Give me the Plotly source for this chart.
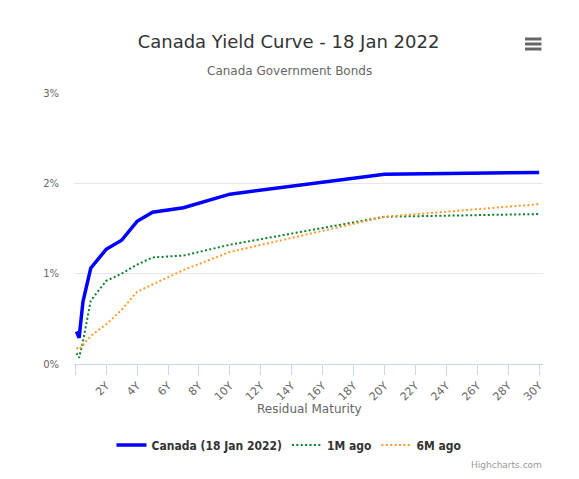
import plotly.graph_objects as go

# Residual maturity in years
maturity = [0.083, 0.25, 0.5, 1, 2, 3, 4, 5, 7, 10, 20, 30]
canada = [0.36, 0.29, 0.69, 1.06, 1.27, 1.37, 1.58, 1.68, 1.73, 1.88, 2.10, 2.12]
ago_1m = [0.12, 0.07, 0.25, 0.70, 0.92, 1.00, 1.10, 1.18, 1.20, 1.32, 1.63, 1.66]
ago_6m = [0.18, 0.16, 0.21, 0.31, 0.44, 0.60, 0.80, 0.88, 1.04, 1.24, 1.63, 1.77]

x_tickvals = [0, 2, 4, 6, 8, 10, 12, 14, 16, 18, 20, 22, 24, 26, 28, 30]
x_ticktext = [""] + [f"{v}Y" for v in x_tickvals[1:]]
y_tickvals = [0, 1, 2, 3]
y_ticktext = ["0%", "1%", "2%", "3%"]

FONT = "DejaVu Sans"
LEGEND_FONT = "DejaVu Sans Condensed, DejaVu Sans"

fig = go.Figure()
fig.add_trace(go.Scatter(x=maturity, y=canada, mode="lines", name="<b>Canada (18 Jan 2022)</b>",
                         line=dict(color="#0000ff", width=3.5)))
fig.add_trace(go.Scatter(x=maturity, y=ago_1m, mode="lines", name="<b>1M ago</b>",
                         line=dict(color="#0a8028", width=2, dash="2px,2.4px")))
fig.add_trace(go.Scatter(x=maturity, y=ago_6m, mode="lines", name="<b>6M ago</b>",
                         line=dict(color="#ff9a2e", width=2, dash="2px,2.4px")))

OFF = 8  # page body margin
W, H = 579 - OFF, 479 - OFF
L, R, T, B = 74 - OFF, 543 - OFF, 93 - OFF, 364 - OFF
pw, ph = R - L, B - T

def px(xp):
    return (xp - OFF - L) / pw

def py(yp):
    return (B - (yp - OFF)) / ph

shapes = []
for yy in [39, 44, 49]:
    shapes.append(dict(type="line", xref="paper", yref="paper",
                       x0=px(525), x1=px(541.5), y0=py(yy), y1=py(yy),
                       line=dict(color="#666666", width=3)))
shapes.append(dict(type="line", xref="paper", yref="paper",
                   x0=px(574.5), x1=px(574.5), y0=py(470), y1=py(8),
                   line=dict(color="#e2e2ee", width=1)))

fig.update_layout(
    width=W, height=H,
    margin=dict(l=L, r=W - R, t=T, b=H - B, autoexpand=False),
    paper_bgcolor="white", plot_bgcolor="white",
    font=dict(family=FONT, color="#666666"),
    title=dict(text="Canada Yield Curve - 18 Jan 2022", x=(288.5 - OFF) / W, xref="container",
               y=1 - (42 - OFF) / H, yref="container", xanchor="center", yanchor="middle",
               font=dict(family=FONT, size=18, color="#333333")),
    showlegend=True,
    legend=dict(orientation="h", x=px(289), xanchor="center", y=py(445), yanchor="middle",
                font=dict(family=LEGEND_FONT, size=12, color="#333333"),
                itemwidth=30, tracegroupgap=0),
    xaxis=dict(range=[-0.08, 30.25], tickvals=x_tickvals, ticktext=x_ticktext,
               tickangle=-45, showgrid=False, zeroline=False,
               showline=True, linecolor="#ccd6eb", linewidth=1,
               ticks="outside", ticklen=10, tickcolor="#ccd6eb",
               tickfont=dict(family=FONT, size=11, color="#666666")),
    yaxis=dict(range=[0, 3], tickvals=y_tickvals, ticktext=y_ticktext,
               showgrid=True, gridcolor="#e6e6e6", zeroline=False, showline=False,
               ticks="", ticklabelstandoff=14,
               tickfont=dict(family=FONT, size=10, color="#666666")),
    shapes=shapes,
    annotations=[
        dict(text="Canada Government Bonds", xref="paper", yref="paper",
             x=px(289.5), y=py(71), xanchor="center", yanchor="middle", showarrow=False,
             font=dict(family=FONT, size=12, color="#666666")),
        dict(text="Residual Maturity", xref="paper", yref="paper",
             x=px(309), y=py(409), xanchor="center", yanchor="middle", showarrow=False,
             font=dict(family=FONT, size=12, color="#666666")),
        dict(text="Highcharts.com", xref="paper", yref="paper",
             x=px(544), y=py(465), xanchor="right", yanchor="middle", showarrow=False,
             font=dict(family=FONT, size=9, color="#999999")),
    ],
)

fig.write_html("out.html")
